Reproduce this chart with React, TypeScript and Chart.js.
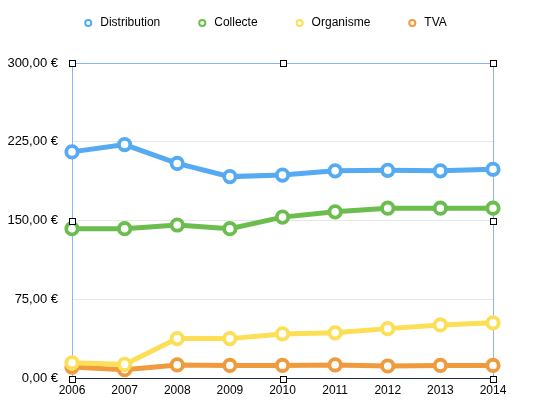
import React, { useEffect, useRef } from "react";
import { Chart, registerables } from "chart.js";

Chart.register(...registerables);

const years = ["2006", "2007", "2008", "2009", "2010", "2011", "2012", "2013", "2014"];
const distribution = [215.5, 222.5, 204.5, 192, 193.5, 197.5, 198, 197.5, 199];
const collecte = [142.5, 142.5, 146, 142.5, 153.5, 158.5, 162, 162, 162];
const organisme = [15, 13.5, 38, 38, 42.5, 43.5, 47.5, 51, 53];
const tva = [11, 8.5, 13, 12.5, 12.5, 13, 12, 12.5, 12.5];

const seriesNames = ["Distribution", "Collecte", "Organisme", "TVA"];
const seriesColors = ["#55AAF2", "#6BBE4E", "#FCDF55", "#F09A3E"];
const yTicks = [0, 75, 150, 225, 300];

const FONT = '"Liberation Sans", Arial, Helvetica, sans-serif';

const legendHeightFix = {
  id: "legendHeightFix",
  beforeLayout(chart: any) {
    const lg = chart.legend;
    if (lg && !lg.__patched) {
      const f = lg.fit;
      lg.fit = function () {
        f.call(this);
        if (this.options && this.options.display) this.height = 82;
      };
      lg.__patched = true;
    }
  },
};

const selectionOverlay = {
  id: "selectionOverlay",
  beforeDatasetsDraw(chart: any) {
    const { ctx, chartArea } = chart;
    const l = Math.round(chartArea.left) + 0.5;
    const t = Math.round(chartArea.top) + 0.5;
    const r = Math.round(chartArea.right) + 0.5;
    const b = Math.round(chartArea.bottom) + 0.5;
    ctx.save();
    ctx.strokeStyle = "#8AB4F8";
    ctx.lineWidth = 1;
    ctx.beginPath();
    ctx.moveTo(l, b);
    ctx.lineTo(l, t);
    ctx.lineTo(r, t);
    ctx.lineTo(r, b);
    ctx.stroke();
    ctx.restore();
  },
  afterDraw(chart: any) {
    const { ctx, chartArea } = chart;
    const l = Math.round(chartArea.left);
    const t = Math.round(chartArea.top);
    const r = Math.round(chartArea.right);
    const b = Math.round(chartArea.bottom);
    const mx = Math.round((l + r) / 2);
    const my = Math.round((t + b) / 2);
    const pts = [
      [l, t], [mx, t], [r, t],
      [l, my], [r, my],
      [l, b], [mx, b], [r, b],
    ];
    ctx.save();
    ctx.fillStyle = "#ffffff";
    ctx.strokeStyle = "#000000";
    ctx.lineWidth = 1;
    for (const [x, y] of pts) {
      ctx.fillRect(x - 3, y - 3, 6, 6);
      ctx.strokeRect(x - 3 + 0.5, y - 3 + 0.5, 6, 6);
    }
    ctx.restore();
  },
};

export default function App() {
  const canvasRef = useRef<HTMLCanvasElement | null>(null);

  useEffect(() => {
    document.body.style.margin = "0";
    const canvas = canvasRef.current;
    if (!canvas) return;
    Chart.defaults.font.family = FONT;
    const allSeries = [distribution, collecte, organisme, tva];
    const chart = new Chart(canvas, {
      type: "line",
      data: {
        labels: years,
        datasets: allSeries.map((data, i) => ({
          label: seriesNames[i],
          data,
          borderColor: seriesColors[i],
          backgroundColor: seriesColors[i],
          borderWidth: 5,
          pointRadius: 5.7,
          pointBorderWidth: 3.8,
          pointBackgroundColor: "#ffffff",
          pointBorderColor: seriesColors[i],
          tension: 0,
          fill: false,
        })),
      },
      options: {
        animation: false,
        responsive: false,
        layout: { padding: { top: -19, left: 0, right: 9, bottom: 8 } },
        plugins: {
          tooltip: { enabled: false },
          legend: {
            position: "top",
            labels: {
              usePointStyle: true,
              pointStyle: "circle",
              boxWidth: 12,
              boxHeight: 4.3,
              padding: 36,
              color: "#000000",
              font: { size: 12, family: FONT },
              generateLabels: (c: any) =>
                Chart.defaults.plugins.legend.labels
                  .generateLabels(c)
                  .map((it: any) => ({ ...it, lineWidth: 2, fillStyle: "#ffffff" })),
            },
          },
        },
        scales: {
          x: {
            type: "category",
            offset: false,
            grid: { display: false, drawTicks: false },
            border: { display: true, color: "#1f2d4a", width: 1 },
            ticks: {
              color: "#000000",
              font: { size: 12, family: FONT },
              padding: 5,
              maxRotation: 0,
              autoSkip: false,
            },
            afterFit: (scale: any) => {
              scale.paddingRight = 45;
            },
          },
          y: {
            min: yTicks[0],
            max: yTicks[yTicks.length - 1],
            afterBuildTicks: (scale: any) => {
              scale.ticks = yTicks.map((v) => ({ value: v }));
            },
            grid: { color: "#e6e6e6", lineWidth: 1, drawTicks: false },
            border: { display: false },
            ticks: {
              color: "#000000",
              font: { size: 13, family: FONT },
              padding: 14,
              callback: (v: any) => Number(v).toFixed(2).replace(".", ",") + " €",
            },
            afterFit: (scale: any) => {
              scale.width = 72;
            },
          },
        },
      },
      plugins: [legendHeightFix, selectionOverlay],
    } as any);
    return () => chart.destroy();
  }, []);

  return (
    <canvas
      ref={canvasRef}
      width={538}
      height={411}
      style={{ display: "block", width: 538, height: 411 }}
    />
  );
}
